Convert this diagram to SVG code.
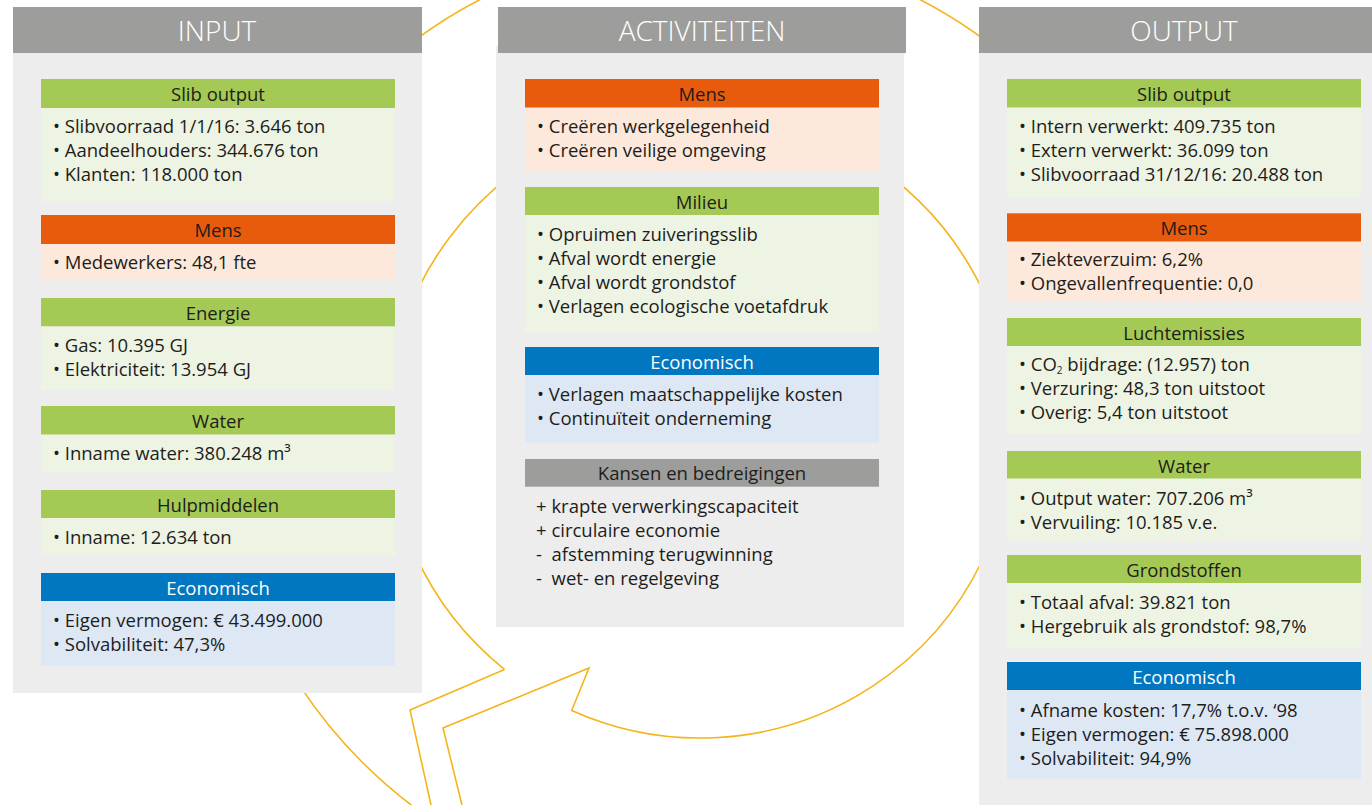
<svg xmlns="http://www.w3.org/2000/svg" width="1372" height="805" viewBox="0 0 1372 805">
<style>
.panel{fill:#ededed}
.hgr{fill:#9d9d9c}
.hg{fill:#a5c955}
.bg{fill:#eef4e3}
.ho{fill:#e95b0c}
.bo{fill:#fde8dc}
.hb{fill:#0077c0}
.bb{fill:#dee8f5}
text{font-family:'Open Sans','Liberation Sans',sans-serif;font-size:18.5px;fill:#1d1d1b}
.c{text-anchor:middle}
.w{fill:#ffffff}
.title{font-size:28px;font-weight:300;fill:#ffffff;text-anchor:middle}
.ring{fill:none;stroke:#f4b41a;stroke-width:1.6;stroke-linejoin:miter}
</style>
<rect width="1372" height="805" fill="#ffffff"/>
<g id="connectors">
<circle class="ring" cx="700" cy="424" r="478"/>
<path class="ring" d="M504.5,669.4 A313,313 0 1 1 571.7,710.5 L589,668 L443,728 L463.2,810"/>
<path class="ring" d="M504.5,669.4 L410,710 L432.1,810"/>
</g>
<g id="input">
<rect class="panel" x="13" y="52" width="409" height="641"/>
<rect class="hgr" x="13" y="7" width="409" height="46"/>
<text class="title" x="217" y="40.5">INPUT</text>
<g id="input-slib">
<rect class="hg" x="41" y="79" width="354" height="29"/>
<rect class="bg" x="41" y="108" width="354" height="93"/>
<text class="c" x="218" y="100.5">Slib output</text>
<text x="53" y="133">• Slibvoorraad 1/1/16: 3.646 ton</text>
<text x="53" y="157">• Aandeelhouders: 344.676 ton</text>
<text x="53" y="181">• Klanten: 118.000 ton</text>
</g>
<g id="input-mens">
<rect class="ho" x="41" y="215" width="354" height="29"/>
<rect class="bo" x="41" y="244" width="354" height="36"/>
<text class="c" x="218" y="236.5">Mens</text>
<text x="53" y="269">• Medewerkers: 48,1 fte</text>
</g>
<g id="input-energie">
<rect class="hg" x="41" y="298" width="354" height="28.5"/>
<rect class="bg" x="41" y="326.5" width="354" height="63.5"/>
<text class="c" x="218" y="319.5">Energie</text>
<text x="53" y="352">• Gas: 10.395 GJ</text>
<text x="53" y="376">• Elektriciteit: 13.954 GJ</text>
</g>
<g id="input-water">
<rect class="hg" x="41" y="406" width="354" height="28.7"/>
<rect class="bg" x="41" y="434.7" width="354" height="37"/>
<text class="c" x="218" y="428">Water</text>
<text x="53" y="460">• Inname water: 380.248 m³</text>
</g>
<g id="input-hulpmiddelen">
<rect class="hg" x="41" y="490" width="354" height="28"/>
<rect class="bg" x="41" y="518" width="354" height="37"/>
<text class="c" x="218" y="512">Hulpmiddelen</text>
<text x="53" y="543.5">• Inname: 12.634 ton</text>
</g>
<g id="input-economisch">
<rect class="hb" x="41" y="573" width="354" height="28"/>
<rect class="bb" x="41" y="601" width="354" height="64.7"/>
<text class="c w" x="218" y="595">Economisch</text>
<text x="53" y="627">• Eigen vermogen: € 43.499.000</text>
<text x="53" y="651">• Solvabiliteit: 47,3%</text>
</g>
</g>
<g id="activiteiten">
<rect class="panel" x="496" y="46" width="408" height="581"/>
<rect class="hgr" x="498" y="7" width="408" height="46"/>
<text class="title" x="702" y="40.5">ACTIVITEITEN</text>
<g id="act-mens">
<rect class="ho" x="525" y="79" width="354" height="28.7"/>
<rect class="bo" x="525" y="107.7" width="354" height="64"/>
<text class="c" x="702" y="100.5">Mens</text>
<text x="537" y="133">• Creëren werkgelegenheid</text>
<text x="537" y="157">• Creëren veilige omgeving</text>
</g>
<g id="act-milieu">
<rect class="hg" x="525" y="187" width="354" height="28"/>
<rect class="bg" x="525" y="215" width="354" height="117.5"/>
<text class="c" x="702" y="208.5">Milieu</text>
<text x="537" y="240.5">• Opruimen zuiveringsslib</text>
<text x="537" y="264.5">• Afval wordt energie</text>
<text x="537" y="288.5">• Afval wordt grondstof</text>
<text x="537" y="312.5">• Verlagen ecologische voetafdruk</text>
</g>
<g id="act-economisch">
<rect class="hb" x="525" y="347" width="354" height="28"/>
<rect class="bb" x="525" y="375" width="354" height="67.7"/>
<text class="c w" x="702" y="368.5">Economisch</text>
<text x="537" y="401">• Verlagen maatschappelijke kosten</text>
<text x="537" y="425">• Continuïteit onderneming</text>
</g>
<g id="act-kansen">
<rect class="hgr" x="525" y="459" width="354" height="27.7"/>
<text class="c" x="702" y="480">Kansen en bedreigingen</text>
<text x="536" y="513" xml:space="preserve">+ krapte verwerkingscapaciteit</text>
<text x="536" y="537" xml:space="preserve">+ circulaire economie</text>
<text x="536" y="561" xml:space="preserve">-  afstemming terugwinning</text>
<text x="536" y="585" xml:space="preserve">-  wet- en regelgeving</text>
</g>
</g>
<g id="output">
<rect class="panel" x="979" y="52" width="412" height="753"/>
<rect class="hgr" x="979" y="7" width="412" height="46"/>
<text class="title" x="1184" y="40.5">OUTPUT</text>
<g id="out-slib">
<rect class="hg" x="1007" y="79" width="354" height="28.7"/>
<rect class="bg" x="1007" y="107.7" width="354" height="90"/>
<text class="c" x="1184" y="100.5">Slib output</text>
<text x="1019" y="132.5">• Intern verwerkt: 409.735 ton</text>
<text x="1019" y="156.5">• Extern verwerkt: 36.099 ton</text>
<text x="1019" y="180.5">• Slibvoorraad 31/12/16: 20.488 ton</text>
</g>
<g id="out-mens">
<rect class="ho" x="1007" y="213.3" width="354" height="28.4"/>
<rect class="bo" x="1007" y="241.7" width="354" height="59.3"/>
<text class="c" x="1184" y="234.8">Mens</text>
<text x="1019" y="266">• Ziekteverzuim: 6,2%</text>
<text x="1019" y="290">• Ongevallenfrequentie: 0,0</text>
</g>
<g id="out-lucht">
<rect class="hg" x="1007" y="318" width="354" height="28"/>
<rect class="bg" x="1007" y="346" width="354" height="88.5"/>
<text class="c" x="1184" y="339.5">Luchtemissies</text>
<text x="1019" y="370.7">• CO<tspan font-size="10" dy="3">2</tspan><tspan dy="-3"> bijdrage: (12.957) ton</tspan></text>
<text x="1019" y="394.7">• Verzuring: 48,3 ton uitstoot</text>
<text x="1019" y="418.7">• Overig: 5,4 ton uitstoot</text>
</g>
<g id="out-water">
<rect class="hg" x="1007" y="451" width="354" height="27.7"/>
<rect class="bg" x="1007" y="478.7" width="354" height="62.3"/>
<text class="c" x="1184" y="472.5">Water</text>
<text x="1019" y="505">• Output water: 707.206 m³</text>
<text x="1019" y="529">• Vervuiling: 10.185 v.e.</text>
</g>
<g id="out-grondstoffen">
<rect class="hg" x="1007" y="555" width="354" height="28"/>
<rect class="bg" x="1007" y="583" width="354" height="64.7"/>
<text class="c" x="1184" y="576.5">Grondstoffen</text>
<text x="1019" y="608.5">• Totaal afval: 39.821 ton</text>
<text x="1019" y="632.5">• Hergebruik als grondstof: 98,7%</text>
</g>
<g id="out-economisch">
<rect class="hb" x="1007" y="662" width="354" height="28"/>
<rect class="bb" x="1007" y="690" width="354" height="88.7"/>
<text class="c w" x="1184" y="683.5">Economisch</text>
<text x="1019" y="716.5">• Afname kosten: 17,7% t.o.v. ‘98</text>
<text x="1019" y="740.5">• Eigen vermogen: € 75.898.000</text>
<text x="1019" y="764.5">• Solvabiliteit: 94,9%</text>
</g>
</g>
</svg>
